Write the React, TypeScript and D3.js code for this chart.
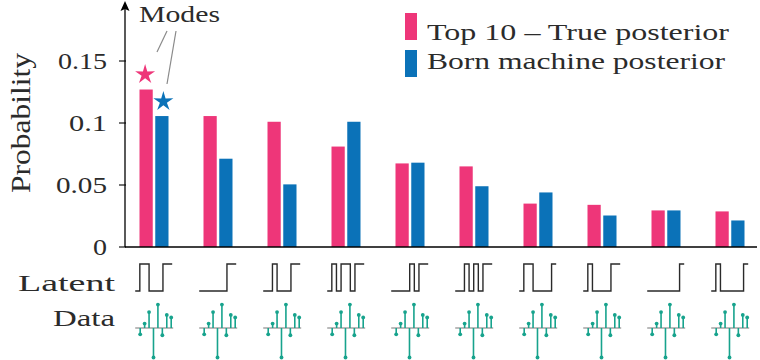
import React from "react";
import * as d3 from "d3";

// values
const categories = ["1", "2", "3", "4", "5", "6", "7", "8", "9", "10"];
const truePosterior = [0.127, 0.1056, 0.101, 0.081, 0.0674, 0.065, 0.035, 0.034, 0.0295, 0.0287];
const bornPosterior = [0.1056, 0.0712, 0.0505, 0.101, 0.068, 0.049, 0.044, 0.0254, 0.0295, 0.0214];
const seriesNames = ["Top 10 \u2013 True posterior", "Born machine posterior"];
const latentBits = [
  "01100011", "00000011", "00100011", "01011011", "00001011",
  "00101011", "01100001", "01000011", "00000001", "01000001",
];
const dataStems = [-0.27, 0.19, 0.68, -1.26, 1.0, -0.31, 0.56, 0.45];
const yTicks = [0, 0.05, 0.1, 0.15];
const yTickLabels = ["0", "0.05", "0.1", "0.15"];

const PINK = "#ee3679";
const BLUE = "#0b72b8";
const TEAL = "#17a38d";
const INK = "#2b2b2b";
const FONT = "'Liberation Serif', 'Times New Roman', serif";

const W = 760, H = 360;
const axisX = 125, zeroY = 247;

function starPath(R: number, r: number) {
  const pts: [number, number][] = [];
  for (let i = 0; i < 10; i++) {
    const a = -Math.PI / 2 + (i * Math.PI) / 5;
    const rad = i % 2 === 0 ? R : r;
    pts.push([Math.cos(a) * rad, Math.sin(a) * rad]);
  }
  return d3.line()(pts) + "Z";
}

export default function App() {
  const x = d3.scaleBand<string>().domain(categories).range([122, 762]);
  const xs = d3.scaleBand<number>().domain([0, 1]).range([0, 29]).paddingInner(0.16);
  const y = d3.scaleLinear().domain([0, 0.15]).range([zeroY, zeroY - 186]);
  const series = [truePosterior, bornPosterior];
  const colors = [PINK, BLUE];

  const bitX = d3.scaleLinear().domain([0, 8]).range([-18.5, 18.5]);
  const bitY = d3.scaleLinear().domain([0, 1]).range([291, 264]);
  const stepLine = d3.line<[number, number]>()
    .x((d) => bitX(d[0]))
    .y((d) => bitY(d[1]))
    .curve(d3.curveStepAfter);

  const stemX = d3.scalePoint<number>().domain(d3.range(dataStems.length)).range([-13.5, 17.5]);
  const stemY = d3.scaleLinear().domain([0, 1]).range([328, 304.6]);

  const star = starPath(10.5, 3.7);
  const g0 = x(categories[0])! + x.bandwidth() / 2 - 14.5;
  const pinkStar = { x: g0 + xs(0)! + xs.bandwidth() / 2 - 1, y: y(truePosterior[0]) - 15 };
  const blueStar = { x: g0 + xs(1)! + xs.bandwidth() / 2 + 1.5, y: y(bornPosterior[0]) - 14.5 };

  return (
    <svg width={W} height={H} style={{ position: "absolute", left: 0, top: 0, background: "#fff" }}>
      {/* bars */}
      {categories.map((c, i) => {
        const gx = x(c)! + x.bandwidth() / 2 - 14.5;
        return (
          <g key={c} transform={`translate(${gx},0)`}>
            {series.map((s, j) => (
              <rect key={j} x={xs(j)} y={y(s[i])} width={xs.bandwidth()} height={zeroY - y(s[i])} fill={colors[j]} />
            ))}
          </g>
        );
      })}

      {/* axes */}
      <line x1={axisX} x2={757} y1={zeroY} y2={zeroY} stroke="#000" strokeWidth={1.3} />
      <line x1={axisX} x2={axisX} y1={zeroY} y2={8} stroke="#000" strokeWidth={1.3} />
      <path d={`M${axisX},1 L${axisX - 4.5},11 L${axisX},9 L${axisX + 4.5},11 Z`} fill="#000" />
      {yTicks.map((t, i) => (
        <g key={t}>
          <line x1={axisX - 6} x2={axisX + 1} y1={y(t)} y2={y(t)} stroke="#000" strokeWidth={1.1} />
          <text
            x={107}
            y={y(t) + 8}
            textAnchor="end"
            fontFamily={FONT}
            fontSize={23}
            fill={INK}
            textLength={[14, 51, 38, 49][i]}
            lengthAdjust="spacingAndGlyphs"
          >
            {yTickLabels[i]}
          </text>
        </g>
      ))}
      <text
        transform={`translate(30,123) rotate(-90)`}
        textAnchor="middle"
        fontFamily={FONT}
        fontSize={27}
        fill={INK}
        textLength={140}
        lengthAdjust="spacingAndGlyphs"
      >
        Probability
      </text>

      {/* modes annotation */}
      <text x={139} y={22} fontFamily={FONT} fontSize={24} fill={INK} textLength={81} lengthAdjust="spacingAndGlyphs">
        Modes
      </text>
      <line x1={167} y1={31} x2={157} y2={52} stroke="#8a8a8a" strokeWidth={1.2} />
      <line x1={176} y1={31} x2={167} y2={84} stroke="#8a8a8a" strokeWidth={1.2} />
      <path d={star} transform={`translate(${pinkStar.x},${pinkStar.y})`} fill={PINK} />
      <path d={star} transform={`translate(${blueStar.x},${blueStar.y})`} fill={BLUE} />

      {/* legend */}
      {seriesNames.map((n, j) => (
        <g key={n}>
          <rect x={405} y={[13, 50][j]} width={12} height={27} fill={colors[j]} />
          <text
            x={427}
            y={[39.5, 69][j]}
            fontFamily={FONT}
            fontSize={24}
            fill={INK}
            textLength={[302, 298][j]}
            lengthAdjust="spacingAndGlyphs"
          >
            {n}
          </text>
        </g>
      ))}

      {/* latent / data rows */}
      <text x={115} y={291} textAnchor="end" fontFamily={FONT} fontSize={24} fill={INK} textLength={97} lengthAdjust="spacingAndGlyphs">
        Latent
      </text>
      <text x={115} y={326} textAnchor="end" fontFamily={FONT} fontSize={24} fill={INK} textLength={62} lengthAdjust="spacingAndGlyphs">
        Data
      </text>
      {categories.map((c, i) => {
        const cx = x(c)! + x.bandwidth() / 2 - 0.3;
        const bits = latentBits[i].split("").map(Number);
        const pts: [number, number][] = bits.map((b, k) => [k, b]);
        pts.push([bits.length, bits[bits.length - 1]]);
        return (
          <g key={c} transform={`translate(${cx},0)`}>
            <path d={stepLine(pts)!} fill="none" stroke="#2a2a2a" strokeWidth={1.4} />
            <line x1={-18.5} x2={19.5} y1={stemY(0)} y2={stemY(0)} stroke="#777" strokeWidth={1.2} />
            {dataStems.map((v, k) => (
              <g key={k}>
                <line x1={stemX(k)} x2={stemX(k)} y1={stemY(0)} y2={stemY(v)} stroke={TEAL} strokeWidth={1.6} />
                <circle cx={stemX(k)} cy={stemY(v)} r={1.9} fill={TEAL} />
              </g>
            ))}
          </g>
        );
      })}
    </svg>
  );
}
